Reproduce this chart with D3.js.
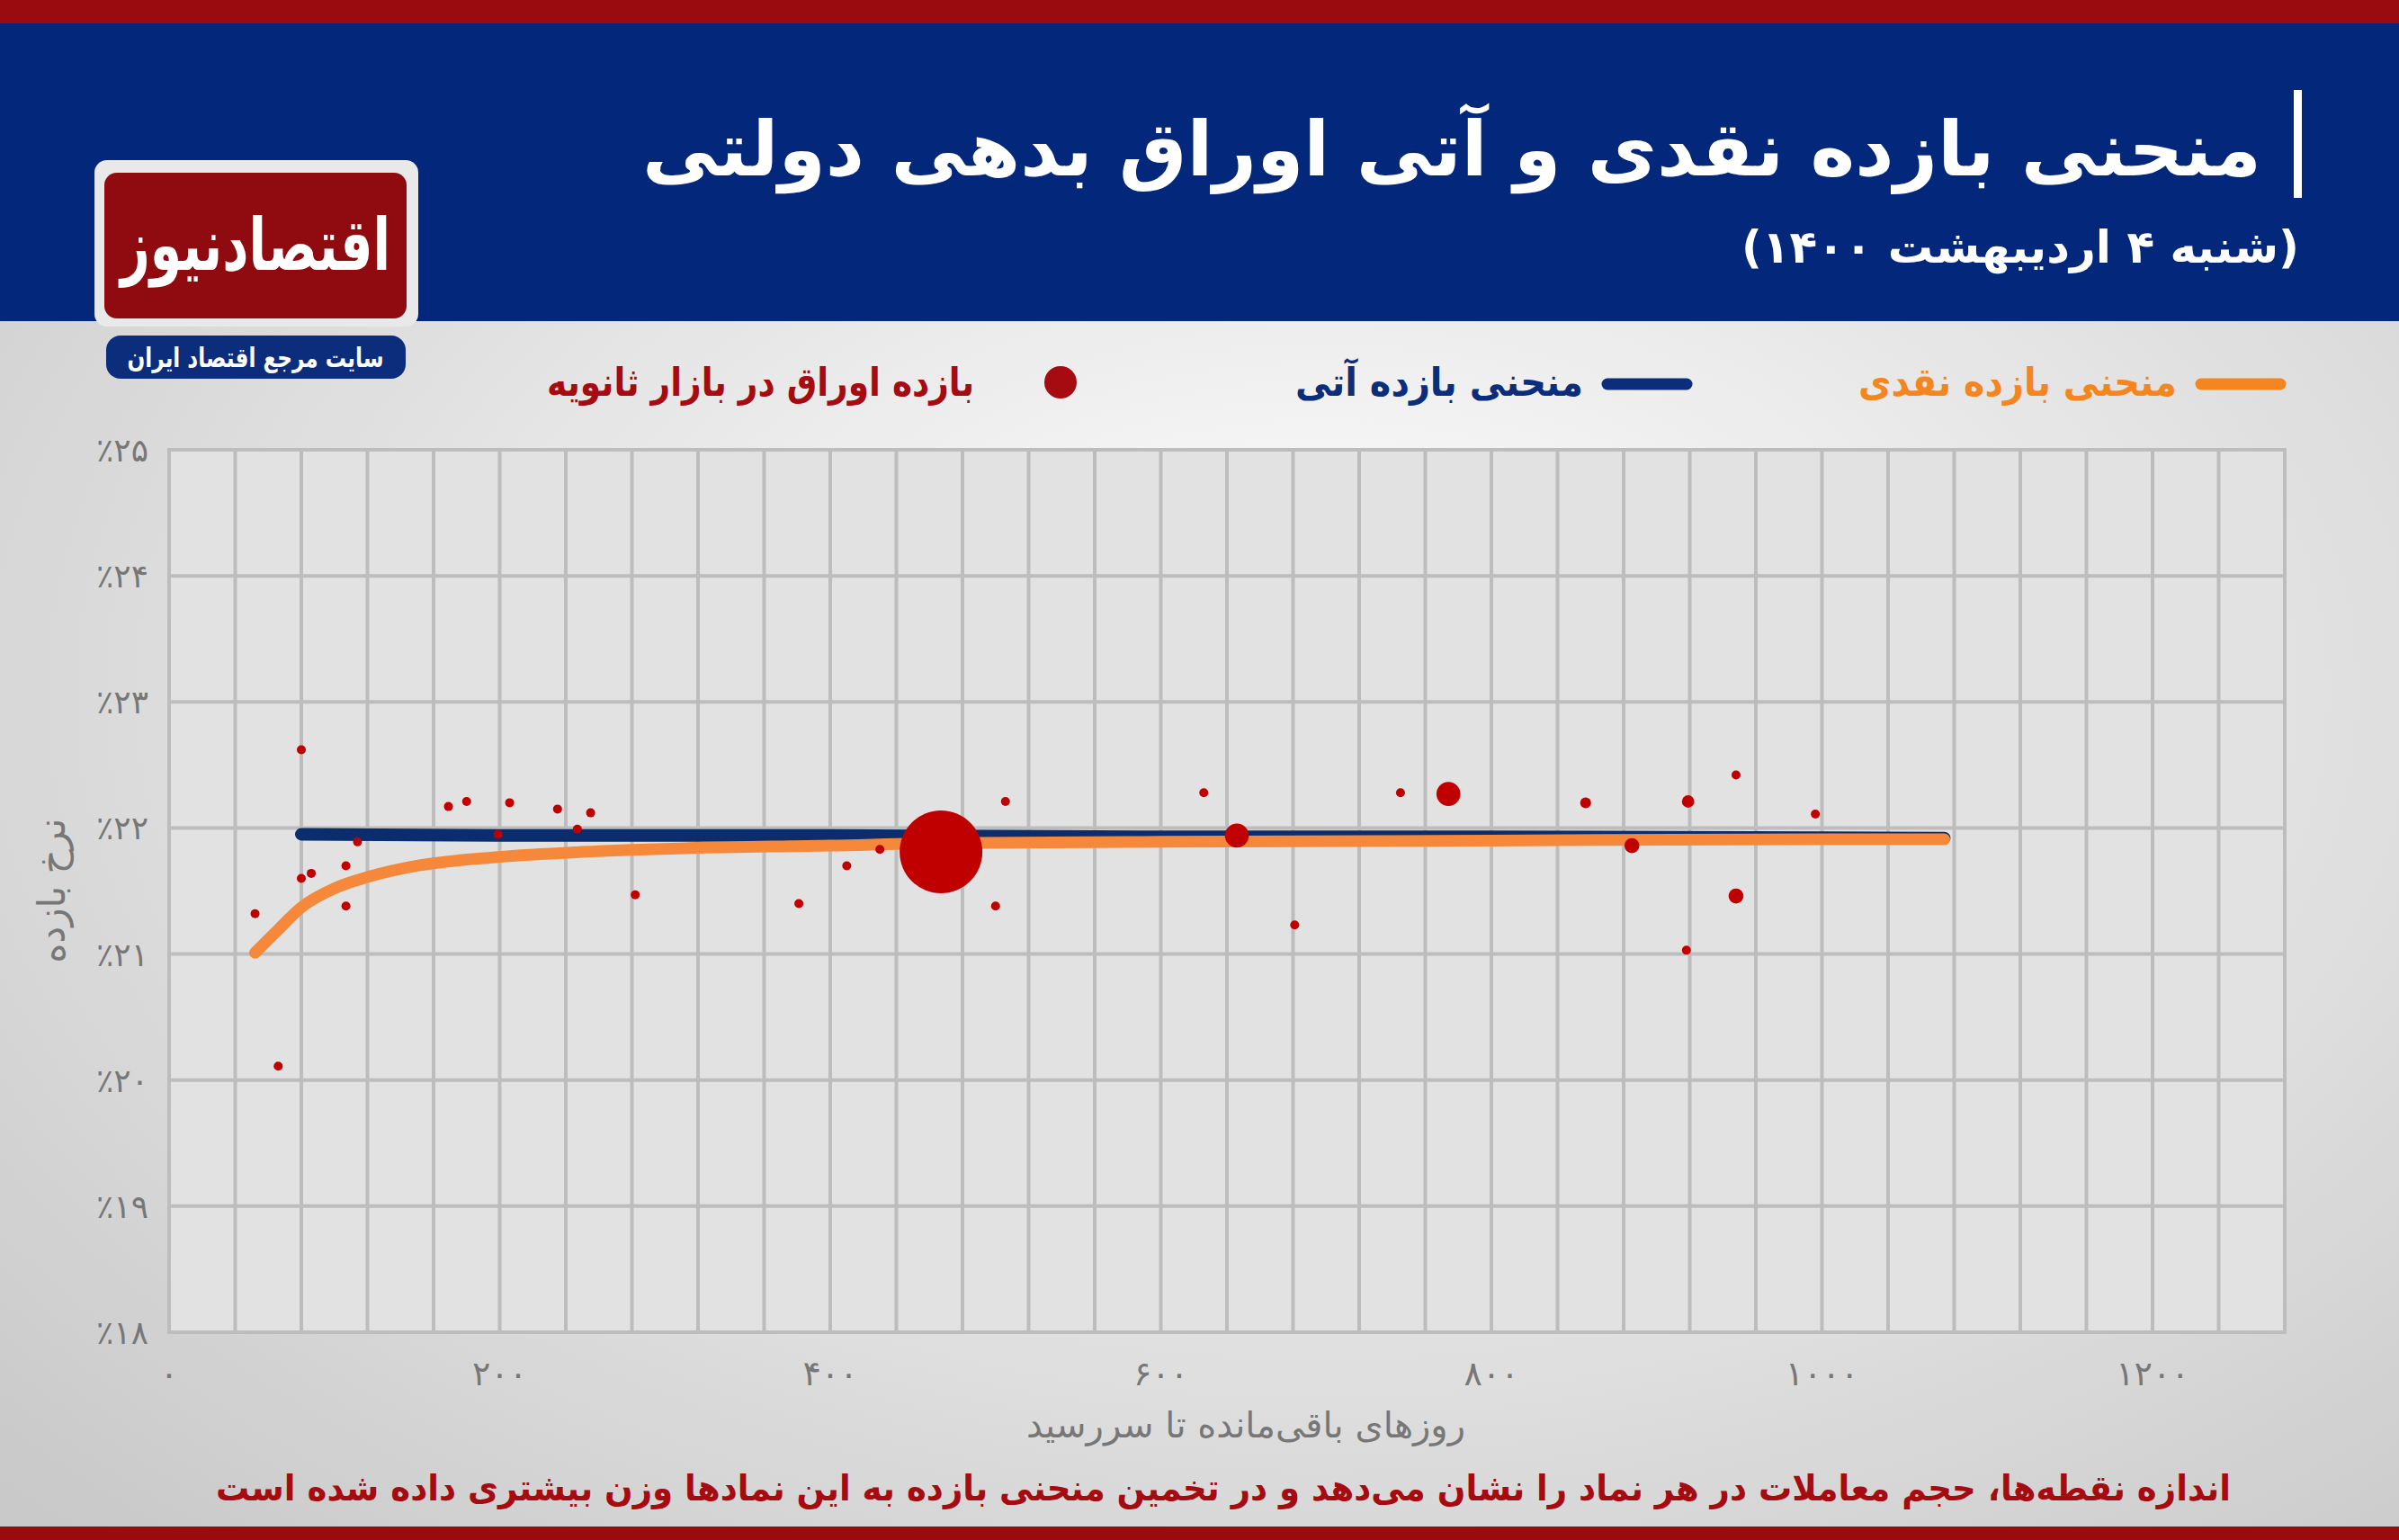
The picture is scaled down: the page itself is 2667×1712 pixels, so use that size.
<!DOCTYPE html>
<html><head><meta charset="utf-8">
<script src="https://cdn.jsdelivr.net/npm/d3@7"></script>
<style>body{margin:0;overflow:hidden}text{font-family:"DejaVu Sans",sans-serif}</style>
</head><body>
<script>
// bond points: days to maturity, yield %, relative trade volume
const bondDays = [52,66,80,80,86,107,107,114,169,180,199,206,235,247,255,282,381,410,430,467,500,506,626,646,681,745,774,857,885,918,919,948,948,996]
const bondYield = [21.32,20.11,22.62,21.60,21.64,21.70,21.38,21.89,22.17,22.21,21.95,22.20,22.15,21.99,22.12,21.47,21.40,21.70,21.83,21.81,21.38,22.21,22.28,21.94,21.23,22.28,22.27,22.20,21.86,21.03,22.21,22.42,21.46,22.11]
const bondVolume = [1,1,1,1,1,1,1,1,1,1,1,1,1,1,1,1,1,1,1,100,1,1,1,8,1,1,8,1.5,3,1,2,1,3,1]

const spotDays = [52,65,80,100,120,150,199,250,315,400,467,600,800,1000,1074]
const spotYield = [21.01,21.18,21.37,21.52,21.61,21.70,21.77,21.81,21.84,21.86,21.88,21.89,21.90,21.91,21.91]
const fwdDays = [80,200,400,600,800,1074]
const fwdYield = [21.95,21.94,21.94,21.93,21.93,21.92]

const xTicks = [0,200,400,600,800,1000,1200]
const yTicks = [18,19,20,21,22,23,24,25]

const W = 2667, H = 1712
const m = {left:188, right:2540, top:500, bottom:1481}
const fa = n => String(n).replace(/\d/g, d => '۰۱۲۳۴۵۶۷۸۹'[d])

const svg = d3.select('body').append('svg').attr('width', W).attr('height', H)
const defs = svg.append('defs')
const bg = defs.append('radialGradient').attr('id','bg').attr('cx','55%').attr('cy','45%').attr('r','75%')
bg.append('stop').attr('offset','0%').attr('stop-color','#ffffff')
bg.append('stop').attr('offset','100%').attr('stop-color','#c9c9c9')

svg.append('rect').attr('width',W).attr('height',H).attr('fill','url(#bg)')
svg.append('rect').attr('width',W).attr('height',357).attr('fill','#03277a')
svg.append('rect').attr('width',W).attr('height',26).attr('fill','#9a0b10')
svg.append('rect').attr('y',1697).attr('width',W).attr('height',15).attr('fill','#9a0b10')

// fitted rtl text helper
function rtlText(xPos, yPos, size, color, str, len, anchor = 'end'){
    const t = svg.append('text').attr('x',xPos).attr('y',yPos).attr('text-anchor',anchor)
        .attr('font-size',size).attr('font-weight','bold').attr('fill',color).text(str)
    if(len) t.attr('textLength',len).attr('lengthAdjust','spacingAndGlyphs')
    return t
}

// title
svg.append('rect').attr('x',2550).attr('y',100).attr('width',9).attr('height',120).attr('fill','#fff')
rtlText(2514, 195, 84, '#fff', 'منحنی بازده نقدی و آتی اوراق بدهی دولتی', 1800)
rtlText(2556, 292, 50, '#fff', '(شنبه ۴ اردیبهشت ۱۴۰۰)', 620)

// logo
svg.append('rect').attr('x',105).attr('y',178).attr('width',360).attr('height',185).attr('rx',14).attr('fill','#e9e9e9')
svg.append('rect').attr('x',116).attr('y',192).attr('width',336).attr('height',162).attr('rx',14).attr('fill','#8f0b10')
rtlText(284, 300, 80, '#fff', 'اقتصادنیوز', 300, 'middle')
svg.append('rect').attr('x',118).attr('y',373).attr('width',333).attr('height',48).attr('rx',16).attr('fill','#0b2d7c')
rtlText(284, 408, 30, '#fff', 'سایت مرجع اقتصاد ایران', 285, 'middle')

// legend
const legend = [
    {label:'منحنی بازده نقدی', color:'#f5861f', x:2535, type:'line', len:354},
    {label:'منحنی بازده آتی', color:'#0b2d7c', x:1875, type:'line', len:320},
    {label:'بازده اوراق در بازار ثانویه', color:'#a50b10', x:1198, type:'dot', len:475}
]
legend.forEach(d => {
    if(d.type === 'line'){
        svg.append('line').attr('x1',d.x-88).attr('x2',d.x).attr('y1',427).attr('y2',427)
            .attr('stroke',d.color).attr('stroke-width',13).attr('stroke-linecap','round')
    } else {
        svg.append('circle').attr('cx',d.x-19).attr('cy',425).attr('r',18).attr('fill',d.color)
    }
    rtlText(d.x-115, 440, 44, d.color, d.label, d.len)
})

// scales
const x = d3.scaleLinear().domain([0,1280]).range([m.left,m.right])
const y = d3.scaleLinear().domain([18,25]).range([m.bottom,m.top])
const r = d3.scaleSqrt().domain([1,100]).range([5,46])

svg.append('rect').attr('x',m.left).attr('y',m.top).attr('width',m.right-m.left).attr('height',m.bottom-m.top)
    .attr('fill','#e2e2e2').attr('stroke','#bdbdbd').attr('stroke-width',4)
const grid = svg.append('g').attr('stroke','#bdbdbd').attr('stroke-width',4)
grid.selectAll('line.v').data(d3.range(40,1280,40)).join('line').attr('class','v')
    .attr('x1',d=>x(d)).attr('x2',d=>x(d)).attr('y1',m.top).attr('y2',m.bottom)
grid.selectAll('line.h').data(yTicks.slice(1,-1)).join('line').attr('class','h')
    .attr('x1',m.left).attr('x2',m.right).attr('y1',d=>y(d)).attr('y2',d=>y(d))

svg.append('g').selectAll('text').data(yTicks).join('text')
    .attr('x',165).attr('y',d=>y(d)+13).attr('text-anchor','end')
    .attr('font-size',36).attr('fill','#777').text(d=>'٪'+fa(d))
svg.append('g').selectAll('text').data(xTicks).join('text')
    .attr('x',d=>x(d)).attr('y',1540).attr('text-anchor','middle')
    .attr('font-size',38).attr('fill','#777').text(d=>fa(d))

svg.append('text').attr('x',1385).attr('y',1598).attr('text-anchor','middle').attr('font-size',40)
    .attr('fill','#777').text('روزهای باقی‌مانده تا سررسید')
svg.append('text').attr('transform','translate(72,990) rotate(-90)').attr('text-anchor','middle')
    .attr('font-size',42).attr('fill','#777').text('نرخ بازده')

// lines
const line = d3.line().curve(d3.curveMonotoneX)
svg.append('path').attr('d', line(fwdDays.map((d,i)=>[x(d),y(fwdYield[i])])))
    .attr('fill','none').attr('stroke','#0b2d6e').attr('stroke-width',14).attr('stroke-linecap','round')
svg.append('path').attr('d', line(spotDays.map((d,i)=>[x(d),y(spotYield[i])])))
    .attr('fill','none').attr('stroke','#f5883a').attr('stroke-width',13).attr('stroke-linecap','round')

svg.append('g').selectAll('circle').data(bondDays).join('circle')
    .attr('cx',d=>x(d)).attr('cy',(d,i)=>y(bondYield[i])).attr('r',(d,i)=>r(bondVolume[i]))
    .attr('fill','#c00000')

rtlText(2480, 1668, 40, '#a50b10', 'اندازه نقطه‌ها، حجم معاملات در هر نماد را نشان می‌دهد و در تخمین منحنی بازده به این نمادها وزن بیشتری داده شده است', 2240)
</script>
</body></html>
